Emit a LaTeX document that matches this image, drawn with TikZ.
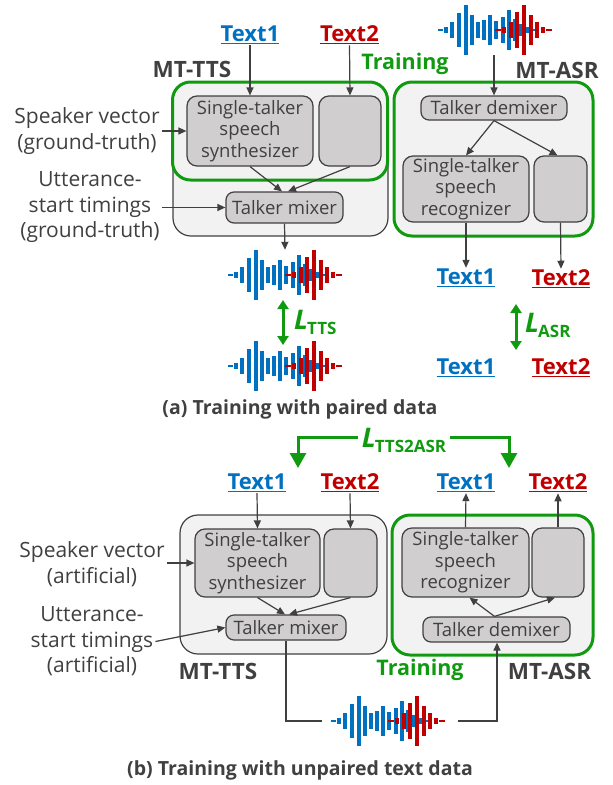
\documentclass[tikz,border=0pt]{standalone}
\usepackage{fontspec}
\setmainfont{Open Sans}
\usetikzlibrary{arrows.meta,calc}
\definecolor{dg}{HTML}{404040}
\definecolor{bl}{HTML}{0070C0}
\definecolor{rd}{HTML}{C00000}
\definecolor{gr}{HTML}{109A10}
\definecolor{outerfill}{HTML}{F2F2F2}
\definecolor{innerfill}{HTML}{D0CECE}
\newcommand{\tone}{{\color{bl}\underline{Text1}}}
\newcommand{\ttwo}{{\color{rd}\underline{Text2}}}
\newcommand{\Lsub}[1]{{\fontsize{27}{27}\selectfont\bfseries\itshape L}\kern-1pt\raisebox{-5pt}{\fontsize{17}{17}\selectfont\bfseries #1}}
\tikzset{
  wave/.pic={
    \foreach \xx/\hh in {6/3,12/8,19/17,26/25,32/15,38/8,44/10,50/15,56/9,63/13,69/20,75/11,81/6,88/3}
      \draw[bl,line width=4pt] (\xx,-\hh) -- (\xx,\hh);
    \draw[bl,line width=2pt] (-2,0) -- (3,0);
    \draw[bl,line width=2pt] (91,0) -- (97,0);
    \draw[rd,line width=2pt] (55,0) -- (61,0);
    \foreach \xx/\hh in {64/3,71/8,77/18,84/25,91/15,97/8,103/3}
      \draw[rd,line width=4pt] (\xx,-\hh) -- (\xx,\hh);
    \draw[rd,line width=2pt] (106,0) -- (112,0);
  }
}
\begin{document}
\begin{tikzpicture}[x=1pt,y=-1pt,
  outer/.style={draw=dg,line width=1.2pt,fill=outerfill,rounded corners=18pt,minimum width=#1,inner sep=0pt},
  grbox/.style={draw=gr,line width=3pt,rounded corners=18pt,inner sep=0pt},
  inner/.style={draw=dg,line width=1.2pt,fill=innerfill,rounded corners=10pt,align=center,
    font=\fontsize{18.5}{21.5}\selectfont,text=dg,inner sep=0pt},
  arr/.style={draw=dg,line width=1.2pt,-{Triangle[length=8pt,width=7pt]}},
  plain/.style={draw=dg,line width=1.2pt},
  lbl/.style={align=center,text=dg,font=\fontsize{21}{25.5}\selectfont,inner sep=2pt},
  tx/.style={font=\fontsize{22}{24}\selectfont\bfseries,inner sep=1pt},
  ttl/.style={font=\fontsize{22.5}{24}\selectfont\bfseries,text=dg,inner sep=1pt},
  trn/.style={font=\fontsize{21.5}{24}\selectfont\bfseries,text=gr,inner sep=1pt},
  captxt/.style={font=\fontsize{19.5}{22}\selectfont\bfseries,text=dg,inner sep=1pt},
  dbl/.style={draw=gr,line width=3pt,{Triangle[length=9pt,width=11pt]}-{Triangle[length=9pt,width=11pt]}},
  garr/.style={draw=gr,line width=3pt,-{Triangle[length=15pt,width=16pt]}},
  wnode/.style={minimum height=50pt,inner sep=0pt}
]
\useasboundingbox (0,0) rectangle (613,785);

% ================= (a) =================
\node[outer=215pt,minimum height=154pt] (ttsA) at (280.5,159) {};
\node[inner,minimum width=126pt,minimum height=70pt] (synthA) at (250,131) {Single-talker\\speech\\synthesizer};
\node[inner,minimum width=62pt,minimum height=70pt] (smallA) at (350,131) {};
\node[grbox,minimum width=215pt,minimum height=98pt] (grA) at (280,131) {};
\node[inner,rounded corners=8pt,minimum width=117pt,minimum height=31pt] (mixA) at (284.5,207.5) {Talker mixer};

\node[grbox,fill=outerfill,minimum width=199pt,minimum height=154pt] (asrA) at (493.5,159) {};
\node[inner,rounded corners=8pt,minimum width=146pt,minimum height=24pt] (demixA) at (494,108) {Talker demixer};
\node[inner,minimum width=126pt,minimum height=66pt] (recogA) at (466,189) {Single-talker\\speech\\recognizer};
\node[inner,minimum width=53pt,minimum height=66pt] (smallA2) at (560.5,189) {};

\node[tx] (t1a) at (250,35) {\tone};
\node[tx] (t2a) at (349.5,35) {\ttwo};
\node[ttl] (mttsA) at (192,69) {MT-TTS};
\node[trn] (trainA) at (405,64) {Training};
\node[ttl] (mtasrA) at (557,70) {MT-ASR};
\node[lbl] (spkA) at (87,131) {Speaker vector\\(ground-truth)};
\node[lbl] (uttA) at (90,207.5) {Utterance-\\start timings\\(ground-truth)};

\pic at (440,30) {wave};
\node[wnode,minimum width=114pt] (wT) at (495,30) {};
\pic at (230,275) {wave};
\node[wnode,minimum width=114pt] (wA1) at (285,275) {};
\pic at (230,366) {wave};
\node[wnode,minimum width=114pt] (wA2) at (285,366) {};

\draw[arr] (t1a.south) -- (synthA.north);
\draw[arr] (t2a.south) -- (smallA.north);
\draw[arr] (spkA.east) -- (synthA.west);
\draw[arr] (uttA.east) -- (mixA.west);
\draw[arr] (synthA.south) -- ($(mixA.north)+(-2.5,0)$);
\draw[arr] (smallA.south) -- ($(mixA.north)+(3.5,0)$);
\draw[arr] (mixA.south) -- (wA1.north);
\draw[arr] (wT.south -| demixA.north) -- (demixA.north);
\draw[arr] (demixA.south) -- (recogA.north);
\draw[arr] (demixA.south) -- ($(smallA2.north)+(-3,0)$);

\node[tx] (t1ao) at (466,278) {\tone};
\node[tx] (t2ao) at (561,279) {\ttwo};
\draw[arr] (recogA.south) -- (t1ao.north);
\draw[arr] (smallA2.south) -- (t2ao.north);
\node[tx] (t1al) at (466,368) {\tone};
\node[tx] (t2al) at (561,368) {\ttwo};

\coordinate (ltA1) at (283,300);
\coordinate (ltA2) at (283,345);
\draw[dbl] (ltA1) -- (ltA2);
\node[text=gr,anchor=west,inner sep=0pt] (LTTS) at (294,322) {\Lsub{TTS}};
\coordinate (laA1) at (516,304);
\coordinate (laA2) at (516,350);
\draw[dbl] (laA1) -- (laA2);
\node[text=gr,anchor=west,inner sep=0pt] (LASR) at (525,325) {\Lsub{ASR}};

\node[captxt] (capA) at (300,409) {(a) Training with paired data};

% ================= (b) =================
\node[outer=207pt,minimum height=139pt] (ttsB) at (283.5,584.5) {};
\node[inner,minimum width=125pt,minimum height=68pt] (synthB) at (257.5,563) {Single-talker\\speech\\synthesizer};
\node[inner,minimum width=53pt,minimum height=68pt] (smallB) at (350.5,563) {};
\node[inner,rounded corners=8pt,minimum width=120pt,minimum height=25pt] (mixB) at (286,627.5) {Talker mixer};

\node[grbox,fill=outerfill,minimum width=201pt,minimum height=140pt] (asrB) at (492.5,585) {};
\node[inner,minimum width=127pt,minimum height=69pt] (recogB) at (465.5,562.5) {Single-talker\\speech\\recognizer};
\node[inner,minimum width=52pt,minimum height=69pt] (smallB2) at (558,562.5) {};
\node[inner,rounded corners=8pt,minimum width=147pt,minimum height=25pt] (demixB) at (496.5,629.5) {Talker demixer};

\node[tx] (t1b) at (257,483) {\tone};
\node[tx] (t2b) at (350,483) {\ttwo};
\node[tx] (t1bo) at (466,483) {\tone};
\node[tx] (t2bo) at (558,483) {\ttwo};

\node[lbl] (spkB) at (92,564) {Speaker vector\\(artificial)};
\node[lbl] (uttB) at (92,641.5) {Utterance-\\start timings\\(artificial)};
\node[ttl] (mttsB) at (218,671) {MT-TTS};
\node[trn] (trainB) at (420,670) {Training};
\node[ttl] (mtasrB) at (549.5,671) {MT-ASR};

\draw[arr] (t1b.south) -- (synthB.north);
\draw[arr] (t2b.south) -- (smallB.north);
\draw[arr] ($(spkB.east)+(0,-1)$) -- ($(synthB.west)+(0,0)$);
\draw[arr] (uttB.east) -- (mixB.west);
\draw[arr] (synthB.south) -- ($(mixB.north)+(-1,0)$);
\draw[arr] (smallB.south) -- ($(mixB.north)+(3,0)$);
\draw[arr] (recogB.north) -- (t1bo.south);
\draw[arr] (smallB2.north) -- (t2bo.south);
\draw[arr] ($(demixB.north)+(-2,0)$) -- ($(recogB.south)+(4,0)$);
\draw[arr] ($(demixB.north)+(-2,0)$) -- ($(smallB2.south)+(-3,0)$);

\pic at (333,721) {wave};
\node[minimum width=136pt,minimum height=50pt,inner sep=0pt] (wB) at (390,721) {};
\coordinate (cB1) at (286,721);
\coordinate (cB2) at (497,721);
\draw[plain] (mixB.south) -- (cB1) -- (wB.west);
\draw[arr] (wB.east) -- (cB2) -- (cB2 |- demixB.south);

\node[text=gr,inner sep=4pt] (LT2A) at (404,440) {\Lsub{TTS2ASR}};
\coordinate (glt) at (298,468);
\coordinate (grt) at (509,468);
\draw[garr] ($(LT2A.west)+(0,-3)$) -| (glt);
\draw[garr] ($(LT2A.east)+(0,-3)$) -| (grt);

\node[captxt] (capB) at (300,770) {(b) Training with unpaired text data};
\end{tikzpicture}
\end{document}
